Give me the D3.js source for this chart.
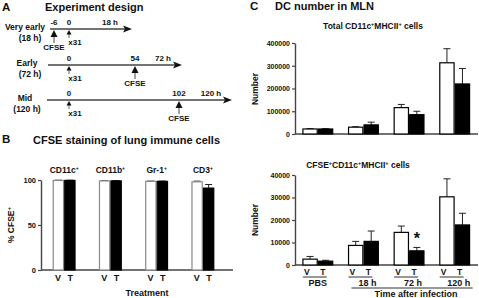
<!DOCTYPE html>
<html lang="en">
<head>
  <meta charset="UTF-8">
  <title>Experiment design, CFSE staining and DC number in MLN</title>
  <style>
    body { margin: 0; background: #fff; }
    svg text { font-family: Arial, "Liberation Sans", sans-serif; font-weight: bold; fill: #111; }
  </style>
  <script src="https://d3js.org/d3.v7.min.js"></script>
</head>
<body>
  <div id="chart"></div>
  <script>
    // Panel A: timeline rows (hours relative to x31 infection)
    const rowNames = ["Very early", "Early", "Mid"];
    const rowSpans = ["(18 h)", "(72 h)", "(120 h)"];
    const cfseHour = [-6, 54, 102];
    const infectHour = [0, 0, 0];
    const endHour = [18, 72, 120];

    // Panel B: % CFSE+ by cell type
    const bCats = ["CD11c", "CD11b", "Gr-1", "CD3"];
    const bVehicle = [99.5, 99, 98.5, 98];
    const bVehicleErr = [0.3, 0.3, 0.3, 0.7];
    const bTreated = [99.5, 99, 98.5, 91];
    const bTreatedErr = [0.3, 0.3, 0.3, 4];
    const bTicks = [0, 50, 100];

    // Panel C: DC number in MLN
    const cGroups = ["PBS", "18 h", "72 h", "120 h"];
    const totalV = [22000, 30000, 116000, 313000];
    const totalVErr = [1500, 2000, 14000, 62000];
    const totalT = [22000, 40000, 85000, 220000];
    const totalTErr = [1500, 12000, 15000, 68000];
    const totalTicks = [0, 100000, 200000, 300000, 400000];

    const cfseV = [2600, 8700, 14500, 30300];
    const cfseVErr = [1200, 1800, 2800, 8000];
    const cfseT = [1700, 10500, 6300, 17800];
    const cfseTErr = [400, 4600, 1500, 5200];
    const cfseTicks = [0, 10000, 20000, 30000, 40000];
    const starGroup = 2;

    const W = 479, H = 298;
    const svg = d3.select("#chart").append("svg")
      .attr("width", W).attr("height", H);

    // ---------- Panel A ----------
    const A = svg.append("g");
    A.append("text").attr("x", 2).attr("y", 11).attr("font-size", 11.5).text("A");
    A.append("text").attr("x", 45).attr("y", 11).attr("font-size", 11).text("Experiment design");

    const rowY = [29, 65, 100];
    const rowStart = [50, 48, 47];
    const rowTip = [132, 182, 232];
    const rowRange = [[54, 69, 110], [69, 135, 163], [69, 179, 211]];
    const nameX = [[25, 30], [27, 30], [25, 27]];

    rowNames.forEach((name, i) => {
      const y0 = rowY[i];
      const dom = [cfseHour[i], infectHour[i], endHour[i]].sort((a, b) => a - b);
      const x = d3.scaleLinear().domain(dom).range(rowRange[i]);
      const row = A.append("g");

      row.append("text").attr("x", nameX[i][0]).attr("y", y0 + 1)
        .attr("text-anchor", "middle").attr("font-size", 8.5).text(name);
      row.append("text").attr("x", nameX[i][1]).attr("y", y0 + 12)
        .attr("text-anchor", "middle").attr("font-size", 8.5).text(rowSpans[i]);

      row.append("line").attr("x1", rowStart[i]).attr("x2", rowTip[i] - 6)
        .attr("y1", y0).attr("y2", y0).attr("stroke", "#444").attr("stroke-width", 1.4);
      row.append("path")
        .attr("d", `M${rowTip[i]},${y0} L${rowTip[i] - 9},${y0 - 3.5} L${rowTip[i] - 7},${y0} L${rowTip[i] - 9},${y0 + 3.5} Z`)
        .attr("fill", "#111");

      // hour labels above the line
      [cfseHour[i], infectHour[i]].forEach(h => {
        row.append("text").attr("x", x(h)).attr("y", y0 - 4)
          .attr("text-anchor", "middle").attr("font-size", 8).text(h);
      });
      row.append("text").attr("x", x(endHour[i])).attr("y", y0 - 4)
        .attr("text-anchor", "middle").attr("font-size", 8).text(endHour[i] + " h");

      // CFSE arrow
      const cx = x(cfseHour[i]);
      row.append("line").attr("x1", cx).attr("x2", cx).attr("y1", y0 + 7).attr("y2", y0 + 14)
        .attr("stroke", "#666").attr("stroke-width", 1.2);
      row.append("path").attr("d", `M${cx},${y0 + 1} L${cx - 3.5},${y0 + 8} L${cx + 3.5},${y0 + 8} Z`)
        .attr("fill", "#111");
      row.append("text").attr("x", cx).attr("y", y0 + 21)
        .attr("text-anchor", "middle").attr("font-size", 8).text("CFSE");

      // x31 infection arrow
      const ix = x(infectHour[i]);
      row.append("line").attr("x1", ix).attr("x2", ix).attr("y1", y0 + 4).attr("y2", y0 + 9)
        .attr("stroke", "#666").attr("stroke-width", 1);
      row.append("path").attr("d", `M${ix},${y0 + 1} L${ix - 2.5},${y0 + 5.5} L${ix + 2.5},${y0 + 5.5} Z`)
        .attr("fill", "#111");
      row.append("text").attr("x", ix + 6).attr("y", y0 + 16)
        .attr("text-anchor", "middle").attr("font-size", 8).text("x31");
    });

    // ---------- shared bar chart helper ----------
    function barChart(g, cfg) {
      const y = d3.scaleLinear().domain([0, cfg.max]).range([cfg.bottom, cfg.top]);
      const x = d3.scaleBand().domain(cfg.cats).range(cfg.xRange).padding(0);
      const bw = cfg.barW;

      const ax = g.append("g").attr("transform", `translate(${cfg.xRange[0]},0)`)
        .call(d3.axisLeft(y).tickValues(cfg.ticks).tickFormat(d3.format("d"))
          .tickSize(3).tickSizeOuter(0).tickPadding(2));
      ax.select(".domain").attr("stroke", "#444").attr("stroke-width", 1.4);
      ax.selectAll(".tick line").attr("stroke", "#444").attr("stroke-width", 1.2);
      ax.selectAll(".tick text").attr("font-size", cfg.tickFont)
        .attr("font-family", "Arial, 'Liberation Sans', sans-serif").attr("font-weight", "bold").attr("fill", "#111");

      g.append("line").attr("x1", cfg.xRange[0]).attr("x2", cfg.axisEnd)
        .attr("y1", y(0)).attr("y2", y(0)).attr("stroke", "#444").attr("stroke-width", 1.4);

      const series = [
        { vals: cfg.v, errs: cfg.vErr, off: -bw, fill: "#fff", stroke: cfg.vStroke },
        { vals: cfg.t, errs: cfg.tErr, off: 0, fill: "#000", stroke: "#000" }
      ];
      series.forEach(s => {
        const cx = (d, i) => x(cfg.cats[i]) + x.bandwidth() / 2 + s.off + bw / 2;
        // error bars (upper only)
        g.selectAll(null).data(s.vals).enter().append("line")
          .attr("x1", cx).attr("x2", cx)
          .attr("y1", d => y(d)).attr("y2", (d, i) => y(d + s.errs[i]))
          .attr("stroke", "#222").attr("stroke-width", 1);
        g.selectAll(null).data(s.vals).enter().append("line")
          .attr("x1", (d, i) => cx(d, i) - cfg.cap).attr("x2", (d, i) => cx(d, i) + cfg.cap)
          .attr("y1", (d, i) => y(d + s.errs[i])).attr("y2", (d, i) => y(d + s.errs[i]))
          .attr("stroke", "#222").attr("stroke-width", 1);
        g.selectAll(null).data(s.vals).enter().append("rect")
          .attr("x", (d, i) => x(cfg.cats[i]) + x.bandwidth() / 2 + s.off + 0.6)
          .attr("width", bw - 1.2)
          .attr("y", d => y(d))
          .attr("height", d => y(0) - y(d))
          .attr("fill", s.fill).attr("stroke", s.stroke).attr("stroke-width", 1.2);
      });
      return { x, y };
    }

    function supLabel(g, x, y, size, parts) {
      const t = g.append("text").attr("x", x).attr("y", y).attr("text-anchor", "middle").attr("font-size", size);
      parts.forEach(p => {
        if (p.sup) t.append("tspan").attr("font-size", size * 0.6).attr("dy", -size * 0.35).text("+");
        else t.append("tspan").text(p.text);
      });
      return t;
    }

    // ---------- Panel B ----------
    const B = svg.append("g");
    B.append("text").attr("x", 2).attr("y", 143).attr("font-size", 11.5).text("B");
    B.append("text").attr("x", 33).attr("y", 144).attr("font-size", 11).text("CFSE staining of lung immune cells");

    const bx = barChart(B, {
      cats: bCats, v: bVehicle, vErr: bVehicleErr, t: bTreated, tErr: bTreatedErr,
      max: 100, ticks: bTicks, top: 180, bottom: 270, xRange: [41, 226], axisEnd: 233,
      barW: 11.5, cap: 3.5, tickFont: 7.5, vStroke: "#888"
    });
    bCats.forEach(c => {
      const cx = bx.x(c) + bx.x.bandwidth() / 2;
      supLabel(B, cx, 173, 8.5, [{ text: c }, { sup: true }]);
      B.append("text").attr("x", cx - 6).attr("y", 281).attr("text-anchor", "middle").attr("font-size", 9).text("V");
      B.append("text").attr("x", cx + 6).attr("y", 281).attr("text-anchor", "middle").attr("font-size", 9).text("T");
    });
    B.append("text").attr("x", 147).attr("y", 296).attr("text-anchor", "middle").attr("font-size", 9).text("Treatment");
    B.append("text").attr("transform", "translate(14,225) rotate(-90)").attr("text-anchor", "middle")
      .attr("font-size", 8.5).call(t => {
        t.append("tspan").text("% CFSE");
        t.append("tspan").attr("font-size", 6).attr("dy", -3).text("+");
      });

    // ---------- Panel C ----------
    const C = svg.append("g");
    C.append("text").attr("x", 250).attr("y", 10).attr("font-size", 11.5).text("C");
    C.append("text").attr("x", 275).attr("y", 10).attr("font-size", 11).text("DC number in MLN");

    const cTitle = (x, y, bits) => {
      const t = C.append("text").attr("x", x).attr("y", y).attr("text-anchor", "middle").attr("font-size", 8.5);
      bits.forEach(b => {
        if (b === "+") t.append("tspan").attr("font-size", 5.5).attr("dy", -3).text("+");
        else t.append("tspan").attr("dy", 3).text(b);
      });
      t.select("tspan").attr("dy", 0);
    };
    cTitle(373, 29, ["Total CD11c", "+", "MHCII", "+", " cells"]);
    cTitle(358, 168, ["CFSE", "+", "CD11c", "+", "MHCII", "+", " cells"]);

    barChart(C, {
      cats: cGroups, v: totalV, vErr: totalVErr, t: totalT, tErr: totalTErr,
      max: 400000, ticks: totalTicks, top: 43, bottom: 134, xRange: [295, 477.5], axisEnd: 478,
      barW: 15.5, cap: 3.5, tickFont: 7, vStroke: "#000"
    });
    const cb = barChart(C, {
      cats: cGroups, v: cfseV, vErr: cfseVErr, t: cfseT, tErr: cfseTErr,
      max: 40000, ticks: cfseTicks, top: 175, bottom: 265, xRange: [295, 477.5], axisEnd: 478,
      barW: 15.5, cap: 3.5, tickFont: 7, vStroke: "#000"
    });

    C.append("text").attr("transform", "translate(258,89) rotate(-90)").attr("text-anchor", "middle")
      .attr("font-size", 8.5).text("Number");
    C.append("text").attr("transform", "translate(258,220) rotate(-90)").attr("text-anchor", "middle")
      .attr("font-size", 8.5).text("Number");

    // significance star
    const sg = cGroups[starGroup];
    C.append("text").attr("x", cb.x(sg) + cb.x.bandwidth() / 2 + 7.75)
      .attr("y", cb.y(cfseT[starGroup] + cfseTErr[starGroup]) - 3)
      .attr("text-anchor", "middle").attr("font-size", 16).text("*");

    cGroups.forEach(gname => {
      const cx = cb.x(gname) + cb.x.bandwidth() / 2;
      C.append("text").attr("x", cx - 11).attr("y", 275).attr("text-anchor", "middle").attr("font-size", 8.5).text("V");
      C.append("text").attr("x", cx + 5).attr("y", 275).attr("text-anchor", "middle").attr("font-size", 8.5).text("T");
      C.append("line").attr("x1", cx - 15).attr("x2", cx + 9).attr("y1", 277).attr("y2", 277)
        .attr("stroke", "#333").attr("stroke-width", 1);
      C.append("text").attr("x", cx + (gname === "PBS" ? 0 : 4)).attr("y", 286)
        .attr("text-anchor", "middle").attr("font-size", 9).text(gname);
    });
    const firstInf = cb.x(cGroups[1]) + cb.x.bandwidth() / 2;
    const lastInf = cb.x(cGroups[3]) + cb.x.bandwidth() / 2;
    C.append("line").attr("x1", firstInf - 12).attr("x2", lastInf + 18).attr("y1", 288).attr("y2", 288)
      .attr("stroke", "#333").attr("stroke-width", 1);
    C.append("text").attr("x", 416).attr("y", 297).attr("text-anchor", "middle").attr("font-size", 9)
      .text("Time after infection");
  </script>
</body>
</html>
